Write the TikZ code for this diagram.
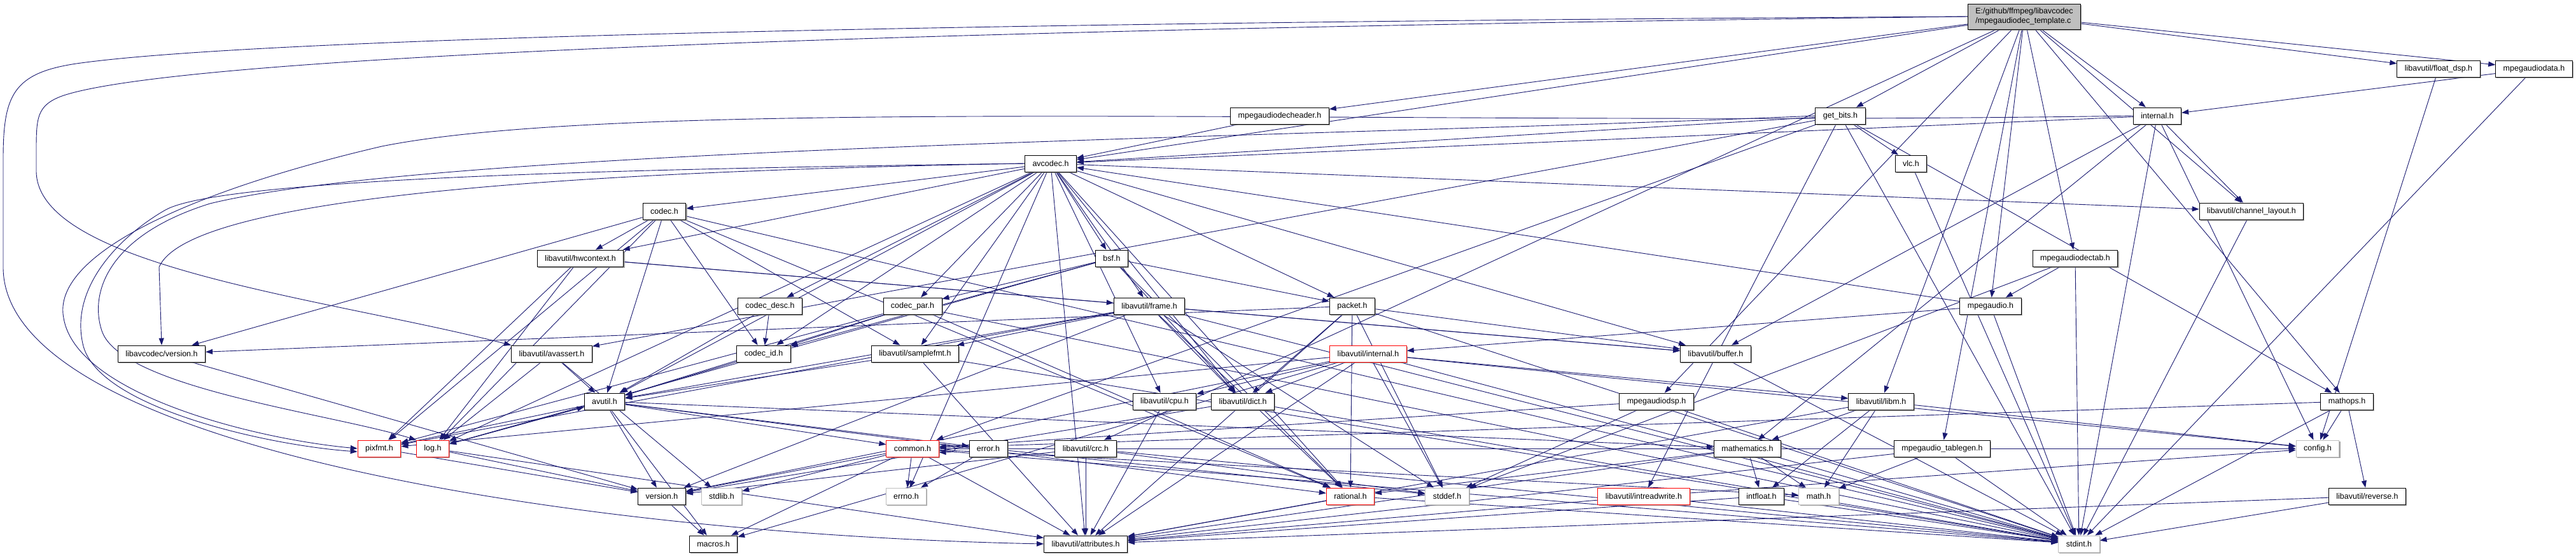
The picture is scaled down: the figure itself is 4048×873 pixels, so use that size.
\documentclass[tikz,border=0pt]{standalone}
\usepackage{fontspec}
\setmainfont{Liberation Sans}
\usepackage{tikz}
\usetikzlibrary{arrows.meta,shadows,backgrounds}
\definecolor{incnavy}{HTML}{191970}
\definecolor{sysgray}{HTML}{BFBFBF}
\tikzset{
  hbase/.style={line width=0.9pt,fill=white,inner xsep=12pt,inner ysep=0pt,
    minimum height=26pt,font=\fontsize{12.5}{14.5}\selectfont,
    drop shadow={shadow xshift=1.6pt,shadow yshift=-1.6pt,fill=black!45,opacity=0.8}},
  hdr/.style={hbase,draw=black},
  hdrred/.style={hbase,draw=red},
  hdrsys/.style={hbase,draw=sysgray},
  hdrmain/.style={hbase,draw=black,fill=sysgray,align=left,minimum height=40pt},
  inc/.style={draw=incnavy,line width=0.9pt,-{Triangle[length=11pt,width=8pt]}},
}

\begin{document}
\begin{tikzpicture}[x=1pt,y=-1pt]
  \useasboundingbox (0,0) rectangle (4048,873);
  \node[hdrmain] (root) at (3181,26) {E:/github/ffmpeg/libavcodec\\/mpegaudiodec\_template.c};
  \node[hdr] (floatdsp) at (3832,108) {libavutil/float\_dsp.h};
  \node[hdr] (mpadata) at (3982,108) {mpegaudiodata.h};
  \node[hdr] (mpadechdr) at (2011,182) {mpegaudiodecheader.h};
  \node[hdr] (getbits) at (2892,182) {get\_bits.h};
  \node[hdr] (lavcint) at (3390,182) {internal.h};
  \node[hdr] (avcodec) at (1651,257) {avcodec.h};
  \node[hdr] (vlc) at (3003,257) {vlc.h};
  \node[hdr] (codec) at (1044,332) {codec.h};
  \node[hdr] (chlayout) at (3538,332) {libavutil/channel\_layout.h};
  \node[hdr] (hwctx) at (912,406) {libavutil/hwcontext.h};
  \node[hdr] (bsf) at (1747,406) {bsf.h};
  \node[hdr] (mpadectab) at (3261,406) {mpegaudiodectab.h};
  \node[hdr] (codecdesc) at (1210,481) {codec\_desc.h};
  \node[hdr] (codecpar) at (1434,481) {codec\_par.h};
  \node[hdr] (frame) at (1806,481) {libavutil/frame.h};
  \node[hdr] (packet) at (2125,481) {packet.h};
  \node[hdr] (mpa) at (3128,481) {mpegaudio.h};
  \node[hdr] (lavcver) at (254,556) {libavcodec/version.h};
  \node[hdr] (avassert) at (867,556) {libavutil/avassert.h};
  \node[hdr] (codecid) at (1200,556) {codec\_id.h};
  \node[hdr] (smpfmt) at (1438,556) {libavutil/samplefmt.h};
  \node[hdrred] (lavuint) at (2150,556) {libavutil/internal.h};
  \node[hdr] (buffer) at (2696,556) {libavutil/buffer.h};
  \node[hdr] (avutil) at (950,631) {avutil.h};
  \node[hdr] (cpu) at (1830,631) {libavutil/cpu.h};
  \node[hdr] (dict) at (1953,631) {libavutil/dict.h};
  \node[hdr] (mpadsp) at (2603,631) {mpegaudiodsp.h};
  \node[hdr] (libm) at (2956,631) {libavutil/libm.h};
  \node[hdr] (mathops) at (3688,631) {mathops.h};
  \node[hdrred] (pixfmt) at (596,705) {pixfmt.h};
  \node[hdrred] (log) at (680,705) {log.h};
  \node[hdrred] (common) at (1434,705) {common.h};
  \node[hdr] (error) at (1553,705) {error.h};
  \node[hdr] (crc) at (1706,705) {libavutil/crc.h};
  \node[hdr] (mathem) at (2746,705) {mathematics.h};
  \node[hdr] (tablegen) at (3052,705) {mpegaudio\_tablegen.h};
  \node[hdrsys] (config) at (3642,705) {config.h};
  \node[hdr] (version) at (1040,780) {version.h};
  \node[hdrsys] (stdlib) at (1134,780) {stdlib.h};
  \node[hdrsys] (errno) at (1424,780) {errno.h};
  \node[hdrred] (rational) at (2122,780) {rational.h};
  \node[hdrsys] (stddef) at (2274,780) {stddef.h};
  \node[hdrred] (intrw) at (2583,780) {libavutil/intreadwrite.h};
  \node[hdr] (intfloat) at (2768,780) {intfloat.h};
  \node[hdrsys] (math) at (2858,780) {math.h};
  \node[hdr] (reverse) at (3720,780) {libavutil/reverse.h};
  \node[hdr] (macros) at (1121,855) {macros.h};
  \node[hdr] (attr) at (1706,855) {libavutil/attributes.h};
  \node[hdrsys] (stdint) at (3267,855) {stdint.h};
  \begin{scope}[on background layer]
    \fill[white] (0,0) rectangle (4048,873);
    \draw[inc] (root.west) .. controls (1500,35) and (400,60) .. (120,100)
      .. controls (20,115) and (5,150) .. (5,250) -- (5,420)
      .. controls (5,700) and (900,840) .. (attr.west);
    \draw[inc] (root.west) .. controls (1500,45) and (300,85) .. (100,150)
      .. controls (57,165) and (57,185) .. (57,240) -- (57,270)
      .. controls (60,420) and (520,470) .. (avassert.north west);
    \draw[inc] (lavcint.west) .. controls (2200,200) and (1000,150) .. (600,230)
      .. controls (300,300) and (80,400) .. (100,500)
      .. controls (120,620) and (400,690) .. (pixfmt.west);
    \draw[inc] (getbits.west) .. controls (2100,215) and (700,230) .. (330,320)
      .. controls (170,370) and (140,460) .. (160,520)
      .. controls (190,610) and (520,650) .. (log.north west);
    \draw[inc] (avcodec.west) .. controls (1000,265) and (350,280) .. (260,330)
      .. controls (190,370) and (110,450) .. (130,540)
      .. controls (150,640) and (420,700) .. ([yshift=-5pt]pixfmt.west);
    \draw[inc] (avcodec.west) .. controls (1000,268) and (300,300) .. (250,420)
      -- (lavcver.north);
    \foreach \tgt in {chlayout,crc,floatdsp,libm,avcodec,getbits,lavcint,mathops,
        mpadsp,mpa,mpadechdr,mpadata,mpadectab,tablegen}
      \draw[inc] (root) -- (\tgt);
    \foreach \tgt in {stdint,lavcint} \draw[inc] (mpadata) -- (\tgt);
    \draw[inc] (floatdsp) -- (config);
    \draw[inc] (mpadechdr) -- (avcodec);
    \foreach \tgt in {stdint,common,intrw,avassert,avcodec,mathops,vlc}
      \draw[inc] (getbits) -- (\tgt);
    \foreach \tgt in {stdint,buffer,chlayout,mathem,avcodec,config}
      \draw[inc] (lavcint) -- (\tgt);
    \foreach \tgt in {errno,smpfmt,attr,avutil,buffer,cpu,chlayout,dict,frame,hwctx,
        log,rational,bsf,codec,codecdesc,codecpar,codecid,packet}
      \draw[inc] (avcodec) -- (\tgt);
    \draw[inc] (vlc) -- (stdint);
    \foreach \tgt in {stdint,avutil,hwctx,log,pixfmt,rational,smpfmt,codecid,lavcver}
      \draw[inc] (codec) -- (\tgt);
    \draw[inc] (chlayout) -- (stdint);
    \foreach \tgt in {buffer,frame,log,pixfmt} \draw[inc] (hwctx) -- (\tgt);
    \foreach \tgt in {dict,log,rational,codecid,codecpar,packet} \draw[inc] (bsf) -- (\tgt);
    \foreach \tgt in {stddef,stdint,mpa} \draw[inc] (mpadectab) -- (\tgt);
    \foreach \tgt in {avutil,codecid} \draw[inc] (codecdesc) -- (\tgt);
    \foreach \tgt in {stdint,avutil,rational,pixfmt,codecid} \draw[inc] (codecpar) -- (\tgt);
    \foreach \tgt in {stddef,stdint,avutil,buffer,dict,rational,smpfmt,pixfmt,version}
      \draw[inc] (frame) -- (\tgt);
    \foreach \tgt in {stddef,stdint,attr,buffer,dict,rational,lavcver}
      \draw[inc] (packet) -- (\tgt);
    \foreach \tgt in {stdint,avcodec,lavuint} \draw[inc] (mpa) -- (\tgt);
    \draw[inc] (lavcver) -- (version);
    \foreach \tgt in {stdlib,avutil,log} \draw[inc] (avassert) -- (\tgt);
    \draw[inc] (codecid) -- (avutil);
    \foreach \tgt in {stdint,avutil,attr} \draw[inc] (smpfmt) -- (\tgt);
    \foreach \tgt in {stdint,stddef,config,attr,cpu,dict,macros,pixfmt,version,libm}
      \draw[inc] (lavuint) -- (\tgt);
    \draw[inc] (buffer) -- (stdint);
    \foreach \tgt in {common,error,rational,version,macros,mathem,log,pixfmt}
      \draw[inc] (avutil) -- (\tgt);
    \draw[inc] (cpu) -- (attr);
    \foreach \tgt in {stdint,version} \draw[inc] (dict) -- (\tgt);
    \foreach \tgt in {stddef,stdint,common} \draw[inc] (mpadsp) -- (\tgt);
    \foreach \tgt in {math,config,attr,intfloat,mathem} \draw[inc] (libm) -- (\tgt);
    \foreach \tgt in {stdint,common,reverse,config} \draw[inc] (mathops) -- (\tgt);
    \draw[inc] (pixfmt) -- (version);
    \foreach \tgt in {avutil,attr,version} \draw[inc] (log) -- (\tgt);
    \foreach \tgt in {errno,math,stdint,stdlib,attr,macros,version,config}
      \draw[inc] (common) -- (\tgt);
    \draw[inc] ([yshift=6pt]common.east) .. controls +(32,0) and +(32,0) .. ([yshift=-6pt]common.east);
    \foreach \tgt in {errno,stddef} \draw[inc] (error) -- (\tgt);
    \foreach \tgt in {stdint,stddef,attr,version} \draw[inc] (crc) -- (\tgt);
    \foreach \tgt in {stdint,math,attr,rational,intfloat} \draw[inc] (mathem) -- (\tgt);
    \foreach \tgt in {stdint,math,attr} \draw[inc] (tablegen) -- (\tgt);
    \foreach \tgt in {stdint,attr} \draw[inc] (rational) -- (\tgt);
    \foreach \tgt in {stdint,config,attr} \draw[inc] (intrw) -- (\tgt);
    \foreach \tgt in {stdint,attr} \draw[inc] (intfloat) -- (\tgt);
    \foreach \tgt in {stdint,attr} \draw[inc] (reverse) -- (\tgt);
    \draw[inc] (version) -- (macros);
  \end{scope}
\end{tikzpicture}
\end{document}
